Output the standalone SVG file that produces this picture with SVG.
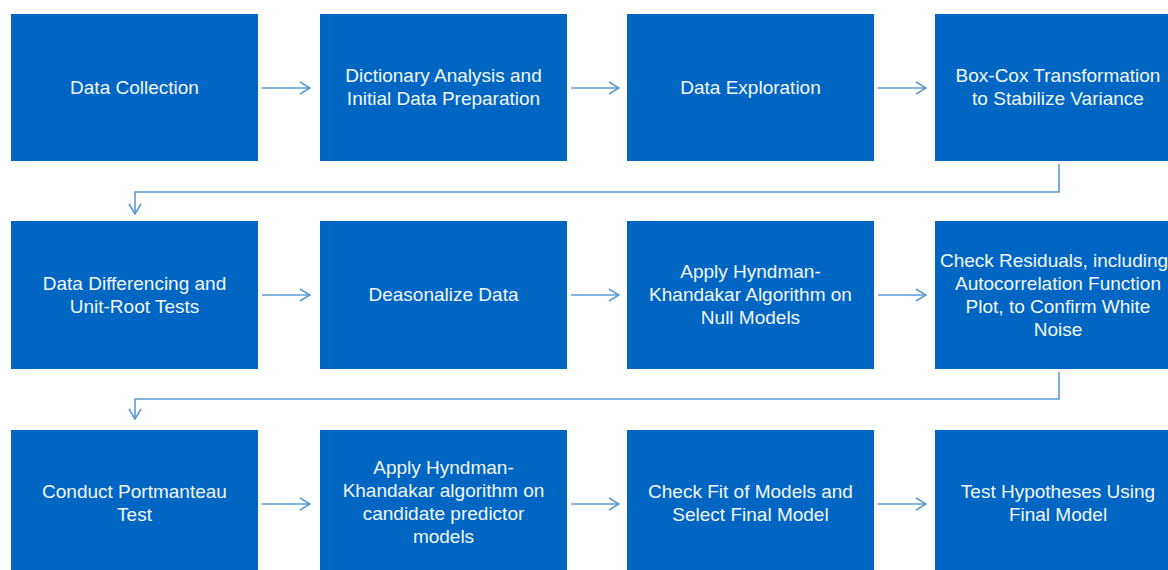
<svg xmlns="http://www.w3.org/2000/svg" width="1168" height="570" viewBox="0 0 1168 570">
<defs>
<style>
.box{fill:#0066c4;}
.t{font-family:"Liberation Sans",Arial,sans-serif;font-size:19px;fill:#f2f6fc;text-anchor:middle;}
.c{fill:none;stroke:#5b9bd5;stroke-width:1.6;}
</style>
<marker id="ah" viewBox="0 0 12 14" refX="11" refY="7" markerWidth="12" markerHeight="14" markerUnits="userSpaceOnUse" orient="auto">
<path d="M1,1 L11,7 L1,13" fill="none" stroke="#5b9bd5" stroke-width="1.6"/>
</marker>
</defs>
<rect width="1168" height="570" fill="#ffffff"/>
<g id="n1"><rect class="box" x="11" y="14" width="247" height="147"/><text class="t" x="134.5" y="94">Data Collection</text></g>
<g id="n2"><rect class="box" x="320" y="14" width="247" height="147"/><text class="t" x="443.5" y="81.5">Dictionary Analysis and</text><text class="t" x="443.5" y="104.5">Initial Data Preparation</text></g>
<g id="n3"><rect class="box" x="627" y="14" width="247" height="147"/><text class="t" x="750.5" y="94">Data Exploration</text></g>
<g id="n4"><rect class="box" x="935" y="14" width="247" height="147"/><text class="t" x="1058" y="81.5">Box-Cox Transformation</text><text class="t" x="1058" y="104.5">to Stabilize Variance</text></g>
<g id="n5"><rect class="box" x="11" y="221" width="247" height="148"/><text class="t" x="134.5" y="289.5">Data Differencing and</text><text class="t" x="134.5" y="312.5">Unit-Root Tests</text></g>
<g id="n6"><rect class="box" x="320" y="221" width="247" height="148"/><text class="t" x="443.5" y="301">Deasonalize Data</text></g>
<g id="n7"><rect class="box" x="627" y="221" width="247" height="148"/><text class="t" x="750.5" y="278">Apply Hyndman-</text><text class="t" x="750.5" y="301">Khandakar Algorithm on</text><text class="t" x="750.5" y="324">Null Models</text></g>
<g id="n8"><rect class="box" x="935" y="221" width="247" height="148"/><text class="t" x="1054" y="266.5">Check Residuals, including</text><text class="t" x="1058" y="289.5">Autocorrelation Function</text><text class="t" x="1058" y="312.5">Plot, to Confirm White</text><text class="t" x="1058" y="335.5">Noise</text></g>
<g id="n9"><rect class="box" x="11" y="430" width="247" height="150"/><text class="t" x="134.5" y="497.5">Conduct Portmanteau</text><text class="t" x="134.5" y="520.5">Test</text></g>
<g id="n10"><rect class="box" x="320" y="430" width="247" height="150"/><text class="t" x="443.5" y="473.5">Apply Hyndman-</text><text class="t" x="443.5" y="496.5">Khandakar algorithm on</text><text class="t" x="443.5" y="519.5">candidate predictor</text><text class="t" x="443.5" y="542.5">models</text></g>
<g id="n11"><rect class="box" x="627" y="430" width="247" height="150"/><text class="t" x="750.5" y="497.5">Check Fit of Models and</text><text class="t" x="750.5" y="520.5">Select Final Model</text></g>
<g id="n12"><rect class="box" x="935" y="430" width="247" height="150"/><text class="t" x="1058" y="497.5">Test Hypotheses Using</text><text class="t" x="1058" y="520.5">Final Model</text></g>
<g id="connectors">
<line class="c" x1="262" y1="88" x2="310" y2="88" marker-end="url(#ah)"/>
<line class="c" x1="571" y1="88" x2="619" y2="88" marker-end="url(#ah)"/>
<line class="c" x1="878" y1="88" x2="926" y2="88" marker-end="url(#ah)"/>
<polyline class="c" points="1059,164 1059,192 135,192 135,214" marker-end="url(#ah)"/>
<line class="c" x1="262" y1="295" x2="310" y2="295" marker-end="url(#ah)"/>
<line class="c" x1="571" y1="295" x2="619" y2="295" marker-end="url(#ah)"/>
<line class="c" x1="878" y1="295" x2="926" y2="295" marker-end="url(#ah)"/>
<polyline class="c" points="1059,372 1059,399 135,399 135,419" marker-end="url(#ah)"/>
<line class="c" x1="262" y1="504" x2="310" y2="504" marker-end="url(#ah)"/>
<line class="c" x1="571" y1="504" x2="619" y2="504" marker-end="url(#ah)"/>
<line class="c" x1="878" y1="504" x2="926" y2="504" marker-end="url(#ah)"/>
</g>
</svg>
